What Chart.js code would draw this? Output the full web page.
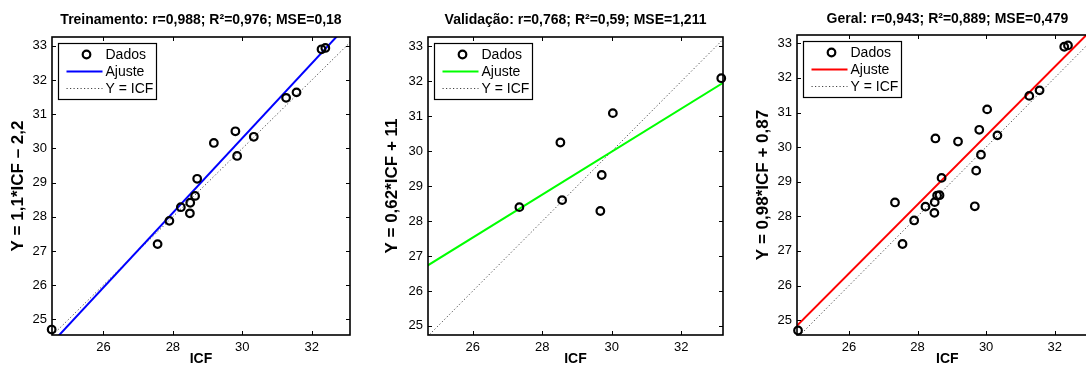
<!DOCTYPE html>
<html>
<head>
<meta charset="utf-8">
<script src="https://cdn.jsdelivr.net/npm/chart.js@4.4.1/dist/chart.umd.min.js"></script>
<style>
  html, body { margin: 0; padding: 0; background: #fff; overflow: hidden; }
  body { width: 1086px; height: 369px; position: relative; }
  canvas { position: absolute; top: 0; }
</style>
</head>
<body>
<canvas id="c1" width="362" height="369" style="left:0"></canvas>
<canvas id="c2" width="372" height="369" style="left:362px"></canvas>
<canvas id="c3" width="380" height="369" style="left:724px"></canvas>
<script>
const xTicks = [26, 28, 30, 32];
const yTicks = [25, 26, 27, 28, 29, 30, 31, 32, 33];

// treinamento
const icfTrain = [24.51, 27.56, 27.90, 28.23, 28.50, 28.49, 28.64, 28.70, 29.18, 29.80, 29.85, 30.33, 31.26, 31.56, 32.28, 32.39];
const yTrain   = [24.70, 27.20, 27.88, 28.28, 28.41, 28.10, 28.61, 29.11, 30.16, 30.50, 29.78, 30.34, 31.48, 31.64, 32.90, 32.94];

// validacao
const icfVal = [27.34, 28.52, 28.57, 29.67, 29.71, 30.03, 33.15];
const yVal   = [28.40, 30.25, 28.60, 28.29, 29.32, 31.09, 32.09];

// extremos das retas de ajuste
const fitTrainX = [24.4, 33.3];
const fitTrainY = [24.18, 33.91];
const fitValX = [24.6, 33.3];
const fitValY = [26.67, 32.02];
const fitAllX = [24.4, 33.4];
const fitAllY = [24.76, 33.71];
const idLine = [24.4, 33.4];

const titles = [
  'Treinamento: r=0,988; R²=0,976; MSE=0,18',
  'Validação: r=0,768; R²=0,59; MSE=1,211',
  'Geral: r=0,943; R²=0,889; MSE=0,479'
];
const yLabels = ['Y = 1,1*ICF – 2,2', 'Y = 0,62*ICF + 11', 'Y = 0,98*ICF + 0,87'];

const FAMILY = '"Liberation Sans", Arial, Helvetica, sans-serif';

const pts = (xs, ys) => xs.map((v, i) => ({ x: v, y: ys[i] }));

const frame = {
  id: 'frame',
  afterDatasetsDraw(chart) {
    const { ctx, chartArea: a, scales: { x, y } } = chart;
    ctx.save();
    ctx.strokeStyle = '#000';
    ctx.lineWidth = 1;
    ctx.beginPath();
    x.ticks.forEach(t => {
      const px = Math.round(x.getPixelForValue(t.value)) + 0.5;
      ctx.moveTo(px, a.bottom); ctx.lineTo(px, a.bottom - 4);
      ctx.moveTo(px, a.top); ctx.lineTo(px, a.top + 4);
    });
    y.ticks.forEach(t => {
      const py = Math.round(y.getPixelForValue(t.value)) + 0.5;
      ctx.moveTo(a.left, py); ctx.lineTo(a.left + 4, py);
      ctx.moveTo(a.right, py); ctx.lineTo(a.right - 4, py);
    });
    ctx.stroke();
    ctx.lineWidth = 1.6;
    ctx.strokeRect(a.left, a.top, a.right - a.left, a.bottom - a.top);
    ctx.restore();
  }
};

const boxLegend = {
  id: 'boxLegend',
  afterDraw(chart) {
    const { ctx, chartArea: a } = chart;
    const L = Math.round(a.left + 6) + 0.5, T = Math.round(a.top + 6) + 0.5, W = 98, H = 56;
    ctx.save();
    ctx.fillStyle = '#fff';
    ctx.fillRect(L, T, W, H);
    ctx.strokeStyle = '#000';
    ctx.lineWidth = 1.2;
    ctx.strokeRect(L, T, W, H);
    ctx.font = '14px ' + FAMILY;
    ctx.textBaseline = 'middle';
    chart.data.datasets.forEach((ds, i) => {
      const yy = T + 11 + i * 17;
      if (ds.showLine === false) {
        ctx.beginPath();
        ctx.lineWidth = ds.pointBorderWidth;
        ctx.strokeStyle = ds.borderColor;
        ctx.arc(L + 28, yy, ds.pointRadius, 0, Math.PI * 2);
        ctx.stroke();
      } else {
        ctx.beginPath();
        ctx.lineWidth = ds.borderWidth;
        ctx.strokeStyle = ds.borderColor;
        ctx.setLineDash(ds.borderDash || []);
        ctx.moveTo(L + 8, yy);
        ctx.lineTo(L + 44, yy);
        ctx.stroke();
        ctx.setLineDash([]);
      }
      ctx.fillStyle = '#000';
      ctx.fillText(ds.label, L + 47, yy + 0.5);
    });
    ctx.restore();
  }
};

function makeChart(id, c) {
  return new Chart(document.getElementById(id), {
    type: 'scatter',
    data: {
      datasets: [
        { label: 'Dados', data: pts(c.x, c.y), showLine: false, pointRadius: 3.8, pointBorderWidth: 2.2,
          borderColor: '#000', backgroundColor: 'rgba(0,0,0,0)', clip: false, order: 0 },
        { label: 'Ajuste', data: pts(c.fx, c.fy), showLine: true, borderColor: c.color, borderWidth: 2,
          pointRadius: 0, order: 1 },
        { label: 'Y = ICF', data: pts(idLine, idLine), showLine: true, borderColor: '#444', borderWidth: 1,
          borderDash: [1.2, 2.3], pointRadius: 0, order: 2 }
      ]
    },
    options: {
      responsive: false,
      animation: false,
      events: [],
      layout: { padding: { left: 0, top: 0, bottom: 0, right: c.padRight } },
      plugins: {
        legend: { display: false },
        tooltip: { enabled: false },
        title: {
          display: true, text: c.title, color: '#000', fullSize: false,
          font: { family: FAMILY, size: 14, weight: 'bold' },
          padding: { top: c.titleTop, bottom: c.titleBottom }
        }
      },
      scales: {
        x: {
          type: 'linear', min: c.xmin, max: c.xmax,
          afterBuildTicks: s => { s.ticks = xTicks.map(v => ({ value: v })); },
          afterFit: s => { s.height = 34; },
          grid: { display: false, drawTicks: false },
          border: { display: false },
          ticks: { padding: 5, color: '#000', font: { family: FAMILY, size: 13 } },
          title: { display: true, text: 'ICF', color: '#000', font: { family: FAMILY, size: 14, weight: 'bold' },
                   padding: { top: 0, bottom: 1 } }
        },
        y: {
          type: 'linear', min: c.ymin, max: c.ymax,
          afterBuildTicks: s => { s.ticks = yTicks.map(v => ({ value: v })); },
          afterFit: s => { s.width = c.yWidth; },
          grid: { display: false, drawTicks: false },
          border: { display: false },
          ticks: { padding: 5, color: '#000', font: { family: FAMILY, size: 13 } },
          title: { display: true, text: c.ylabel, color: '#000', font: { family: FAMILY, size: 17, weight: 'bold' },
                   padding: { top: c.yTitlePad, bottom: 0 } }
        }
      }
    },
    plugins: [frame, boxLegend]
  });
}

makeChart('c1', {
  x: icfTrain, y: yTrain, fx: fitTrainX, fy: fitTrainY, color: '#0000ff',
  title: titles[0], ylabel: yLabels[0],
  xmin: 24.52, xmax: 33.1, ymin: 24.54, ymax: 33.26,
  yWidth: 52, padRight: 12, yTitlePad: 8, titleTop: 12.2, titleBottom: 8
});

makeChart('c2', {
  x: icfVal, y: yVal, fx: fitValX, fy: fitValY, color: '#00ff00',
  title: titles[1], ylabel: yLabels[1],
  xmin: 24.71, xmax: 33.2, ymin: 24.74, ymax: 33.27,
  yWidth: 66, padRight: 11, yTitlePad: 20, titleTop: 12.2, titleBottom: 8
});

makeChart('c3', {
  x: icfTrain.concat(icfVal), y: yTrain.concat(yVal), fx: fitAllX, fy: fitAllY, color: '#ff0000',
  title: titles[2], ylabel: yLabels[2],
  xmin: 24.48, xmax: 33.26, ymin: 24.57, ymax: 33.24,
  yWidth: 73, padRight: 5, yTitlePad: 29, titleTop: 11.2, titleBottom: 7
});
</script>
</body>
</html>
